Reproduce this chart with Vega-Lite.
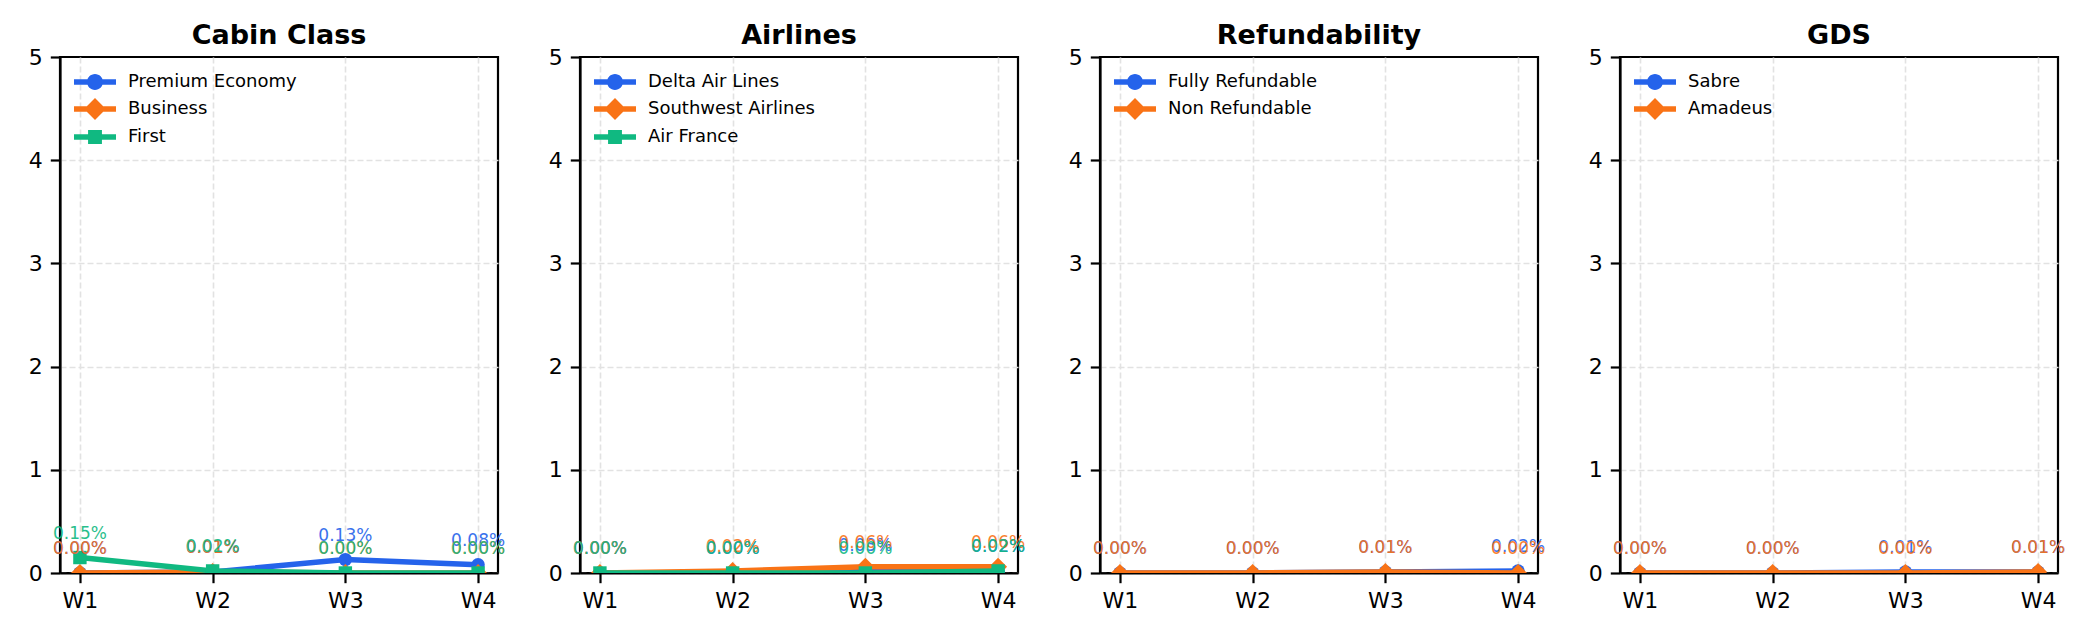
{
  "$schema": "https://vega.github.io/schema/vega-lite/v6.json",
  "background": "white",
  "padding": {"left": 27, "top": 20, "right": 5, "bottom": 5},
  "bounds": "flush",
  "spacing": 82,
  "resolve": {
    "scale": {"color": "independent", "shape": "independent"},
    "legend": {"color": "independent", "shape": "independent"}
  },
  "datasets": {
    "cabin": [
      {"series": "Premium Economy", "week": "W1", "value": 0.00},
      {"series": "Premium Economy", "week": "W2", "value": 0.01},
      {"series": "Premium Economy", "week": "W3", "value": 0.13},
      {"series": "Premium Economy", "week": "W4", "value": 0.08},
      {"series": "Business", "week": "W1", "value": 0.00},
      {"series": "Business", "week": "W2", "value": 0.01},
      {"series": "Business", "week": "W3", "value": 0.00},
      {"series": "Business", "week": "W4", "value": 0.00},
      {"series": "First", "week": "W1", "value": 0.15},
      {"series": "First", "week": "W2", "value": 0.02},
      {"series": "First", "week": "W3", "value": 0.00},
      {"series": "First", "week": "W4", "value": 0.00}
    ],
    "airlines": [
      {"series": "Delta Air Lines", "week": "W1", "value": 0.00},
      {"series": "Delta Air Lines", "week": "W2", "value": 0.00},
      {"series": "Delta Air Lines", "week": "W3", "value": 0.03},
      {"series": "Delta Air Lines", "week": "W4", "value": 0.02},
      {"series": "Southwest Airlines", "week": "W1", "value": 0.00},
      {"series": "Southwest Airlines", "week": "W2", "value": 0.02},
      {"series": "Southwest Airlines", "week": "W3", "value": 0.06},
      {"series": "Southwest Airlines", "week": "W4", "value": 0.06},
      {"series": "Air France", "week": "W1", "value": 0.00},
      {"series": "Air France", "week": "W2", "value": 0.00},
      {"series": "Air France", "week": "W3", "value": 0.00},
      {"series": "Air France", "week": "W4", "value": 0.02}
    ],
    "refund": [
      {"series": "Fully Refundable", "week": "W1", "value": 0.00},
      {"series": "Fully Refundable", "week": "W2", "value": 0.00},
      {"series": "Fully Refundable", "week": "W3", "value": 0.01},
      {"series": "Fully Refundable", "week": "W4", "value": 0.02},
      {"series": "Non Refundable", "week": "W1", "value": 0.00},
      {"series": "Non Refundable", "week": "W2", "value": 0.00},
      {"series": "Non Refundable", "week": "W3", "value": 0.01},
      {"series": "Non Refundable", "week": "W4", "value": 0.00}
    ],
    "gds": [
      {"series": "Sabre", "week": "W1", "value": 0.00},
      {"series": "Sabre", "week": "W2", "value": 0.00},
      {"series": "Sabre", "week": "W3", "value": 0.01},
      {"series": "Sabre", "week": "W4", "value": 0.01},
      {"series": "Amadeus", "week": "W1", "value": 0.00},
      {"series": "Amadeus", "week": "W2", "value": 0.00},
      {"series": "Amadeus", "week": "W3", "value": 0.00},
      {"series": "Amadeus", "week": "W4", "value": 0.01}
    ]
  },
  "hconcat": [
    {
      "title": "Cabin Class",
      "width": 438,
      "height": 516,
      "data": {"name": "cabin"},
      "encoding": {
        "x": {"field": "week", "type": "ordinal", "scale": {"type": "point", "padding": 0.15}, "axis": {"title": null, "grid": true}},
        "y": {"field": "value", "type": "quantitative", "scale": {"domain": [0, 5]}, "axis": {"title": null, "values": [0, 1, 2, 3, 4, 5], "format": "d", "gridOpacity": {"condition": {"test": "datum.value >= 5", "value": 0}, "value": 1}}}
      },
      "layer": [
        {"transform": [{"filter": "datum.series === 'Premium Economy'"}], "mark": {"type": "line", "color": "#2563eb", "strokeWidth": 5.5, "clip": true}},
        {"transform": [{"filter": "datum.series === 'Premium Economy'"}], "mark": {"type": "point", "shape": "circle", "size": 180, "filled": true, "opacity": 1, "color": "#2563eb", "clip": true}},
        {"transform": [{"filter": "datum.series === 'Business'"}], "mark": {"type": "line", "color": "#f97316", "strokeWidth": 5.5, "clip": true}},
        {"transform": [{"filter": "datum.series === 'Business'"}], "mark": {"type": "point", "shape": "diamond", "size": 324, "filled": true, "opacity": 1, "color": "#f97316", "clip": true}},
        {"transform": [{"filter": "datum.series === 'First'"}], "mark": {"type": "line", "color": "#10b981", "strokeWidth": 5.5, "clip": true}},
        {"transform": [{"filter": "datum.series === 'First'"}], "mark": {"type": "point", "shape": "square", "size": 180, "filled": true, "opacity": 1, "color": "#10b981", "clip": true}},
        {"transform": [{"filter": "datum.series === 'Premium Economy'"}], "mark": {"type": "text", "color": "#2563eb", "fontSize": 17, "dy": -19, "baseline": "alphabetic", "opacity": 0.9, "text": {"expr": "format(datum.value, '.2f') + '%'"}}},
        {"transform": [{"filter": "datum.series === 'Business'"}], "mark": {"type": "text", "color": "#f97316", "fontSize": 17, "dy": -19, "baseline": "alphabetic", "opacity": 0.9, "text": {"expr": "format(datum.value, '.2f') + '%'"}}},
        {"transform": [{"filter": "datum.series === 'First'"}], "mark": {"type": "text", "color": "#10b981", "fontSize": 17, "dy": -19, "baseline": "alphabetic", "opacity": 0.9, "text": {"expr": "format(datum.value, '.2f') + '%'"}}},
        {
          "transform": [{"filter": "false"}],
          "mark": {"type": "point", "filled": true, "opacity": 1},
          "encoding": {
            "color": {"field": "series", "type": "nominal", "scale": {"domain": ["Premium Economy", "Business", "First"], "range": ["#2563eb", "#f97316", "#10b981"]}, "legend": {"title": null}},
            "shape": {"field": "series", "type": "nominal", "scale": {"domain": ["Premium Economy", "Business", "First"], "range": [
              "M-2,-0.26L2,-0.26L2,0.26L-2,0.26Z M-0.76,0A0.76,0.76 0 1,1 0.76,0A0.76,0.76 0 1,1 -0.76,0Z",
              "M-2,-0.26L2,-0.26L2,0.26L-2,0.26Z M0,-1.04L1.04,0L0,1.04L-1.04,0Z",
              "M-2,-0.26L2,-0.26L2,0.26L-2,0.26Z M-0.66,-0.66L0.66,-0.66L0.66,0.66L-0.66,0.66Z"
            ]}, "legend": {"title": null}}
          }
        }
      ]
    },
    {
      "title": "Airlines",
      "width": 438,
      "height": 516,
      "data": {"name": "airlines"},
      "encoding": {
        "x": {"field": "week", "type": "ordinal", "scale": {"type": "point", "padding": 0.15}, "axis": {"title": null, "grid": true}},
        "y": {"field": "value", "type": "quantitative", "scale": {"domain": [0, 5]}, "axis": {"title": null, "values": [0, 1, 2, 3, 4, 5], "format": "d", "gridOpacity": {"condition": {"test": "datum.value >= 5", "value": 0}, "value": 1}}}
      },
      "layer": [
        {"transform": [{"filter": "datum.series === 'Delta Air Lines'"}], "mark": {"type": "line", "color": "#2563eb", "strokeWidth": 5.5, "clip": true}},
        {"transform": [{"filter": "datum.series === 'Delta Air Lines'"}], "mark": {"type": "point", "shape": "circle", "size": 180, "filled": true, "opacity": 1, "color": "#2563eb", "clip": true}},
        {"transform": [{"filter": "datum.series === 'Southwest Airlines'"}], "mark": {"type": "line", "color": "#f97316", "strokeWidth": 5.5, "clip": true}},
        {"transform": [{"filter": "datum.series === 'Southwest Airlines'"}], "mark": {"type": "point", "shape": "diamond", "size": 324, "filled": true, "opacity": 1, "color": "#f97316", "clip": true}},
        {"transform": [{"filter": "datum.series === 'Air France'"}], "mark": {"type": "line", "color": "#10b981", "strokeWidth": 5.5, "clip": true}},
        {"transform": [{"filter": "datum.series === 'Air France'"}], "mark": {"type": "point", "shape": "square", "size": 180, "filled": true, "opacity": 1, "color": "#10b981", "clip": true}},
        {"transform": [{"filter": "datum.series === 'Delta Air Lines'"}], "mark": {"type": "text", "color": "#2563eb", "fontSize": 17, "dy": -19, "baseline": "alphabetic", "opacity": 0.9, "text": {"expr": "format(datum.value, '.2f') + '%'"}}},
        {"transform": [{"filter": "datum.series === 'Southwest Airlines'"}], "mark": {"type": "text", "color": "#f97316", "fontSize": 17, "dy": -19, "baseline": "alphabetic", "opacity": 0.9, "text": {"expr": "format(datum.value, '.2f') + '%'"}}},
        {"transform": [{"filter": "datum.series === 'Air France'"}], "mark": {"type": "text", "color": "#10b981", "fontSize": 17, "dy": -19, "baseline": "alphabetic", "opacity": 0.9, "text": {"expr": "format(datum.value, '.2f') + '%'"}}},
        {
          "transform": [{"filter": "false"}],
          "mark": {"type": "point", "filled": true, "opacity": 1},
          "encoding": {
            "color": {"field": "series", "type": "nominal", "scale": {"domain": ["Delta Air Lines", "Southwest Airlines", "Air France"], "range": ["#2563eb", "#f97316", "#10b981"]}, "legend": {"title": null}},
            "shape": {"field": "series", "type": "nominal", "scale": {"domain": ["Delta Air Lines", "Southwest Airlines", "Air France"], "range": [
              "M-2,-0.26L2,-0.26L2,0.26L-2,0.26Z M-0.76,0A0.76,0.76 0 1,1 0.76,0A0.76,0.76 0 1,1 -0.76,0Z",
              "M-2,-0.26L2,-0.26L2,0.26L-2,0.26Z M0,-1.04L1.04,0L0,1.04L-1.04,0Z",
              "M-2,-0.26L2,-0.26L2,0.26L-2,0.26Z M-0.66,-0.66L0.66,-0.66L0.66,0.66L-0.66,0.66Z"
            ]}, "legend": {"title": null}}
          }
        }
      ]
    },
    {
      "title": "Refundability",
      "width": 438,
      "height": 516,
      "data": {"name": "refund"},
      "encoding": {
        "x": {"field": "week", "type": "ordinal", "scale": {"type": "point", "padding": 0.15}, "axis": {"title": null, "grid": true}},
        "y": {"field": "value", "type": "quantitative", "scale": {"domain": [0, 5]}, "axis": {"title": null, "values": [0, 1, 2, 3, 4, 5], "format": "d", "gridOpacity": {"condition": {"test": "datum.value >= 5", "value": 0}, "value": 1}}}
      },
      "layer": [
        {"transform": [{"filter": "datum.series === 'Fully Refundable'"}], "mark": {"type": "line", "color": "#2563eb", "strokeWidth": 5.5, "clip": true}},
        {"transform": [{"filter": "datum.series === 'Fully Refundable'"}], "mark": {"type": "point", "shape": "circle", "size": 180, "filled": true, "opacity": 1, "color": "#2563eb", "clip": true}},
        {"transform": [{"filter": "datum.series === 'Non Refundable'"}], "mark": {"type": "line", "color": "#f97316", "strokeWidth": 5.5, "clip": true}},
        {"transform": [{"filter": "datum.series === 'Non Refundable'"}], "mark": {"type": "point", "shape": "diamond", "size": 324, "filled": true, "opacity": 1, "color": "#f97316", "clip": true}},
        {"transform": [{"filter": "datum.series === 'Fully Refundable'"}], "mark": {"type": "text", "color": "#2563eb", "fontSize": 17, "dy": -19, "baseline": "alphabetic", "opacity": 0.9, "text": {"expr": "format(datum.value, '.2f') + '%'"}}},
        {"transform": [{"filter": "datum.series === 'Non Refundable'"}], "mark": {"type": "text", "color": "#f97316", "fontSize": 17, "dy": -19, "baseline": "alphabetic", "opacity": 0.9, "text": {"expr": "format(datum.value, '.2f') + '%'"}}},
        {
          "transform": [{"filter": "false"}],
          "mark": {"type": "point", "filled": true, "opacity": 1},
          "encoding": {
            "color": {"field": "series", "type": "nominal", "scale": {"domain": ["Fully Refundable", "Non Refundable"], "range": ["#2563eb", "#f97316"]}, "legend": {"title": null}},
            "shape": {"field": "series", "type": "nominal", "scale": {"domain": ["Fully Refundable", "Non Refundable"], "range": [
              "M-2,-0.26L2,-0.26L2,0.26L-2,0.26Z M-0.76,0A0.76,0.76 0 1,1 0.76,0A0.76,0.76 0 1,1 -0.76,0Z",
              "M-2,-0.26L2,-0.26L2,0.26L-2,0.26Z M0,-1.04L1.04,0L0,1.04L-1.04,0Z"
            ]}, "legend": {"title": null}}
          }
        }
      ]
    },
    {
      "title": "GDS",
      "width": 438,
      "height": 516,
      "data": {"name": "gds"},
      "encoding": {
        "x": {"field": "week", "type": "ordinal", "scale": {"type": "point", "padding": 0.15}, "axis": {"title": null, "grid": true}},
        "y": {"field": "value", "type": "quantitative", "scale": {"domain": [0, 5]}, "axis": {"title": null, "values": [0, 1, 2, 3, 4, 5], "format": "d", "gridOpacity": {"condition": {"test": "datum.value >= 5", "value": 0}, "value": 1}}}
      },
      "layer": [
        {"transform": [{"filter": "datum.series === 'Sabre'"}], "mark": {"type": "line", "color": "#2563eb", "strokeWidth": 5.5, "clip": true}},
        {"transform": [{"filter": "datum.series === 'Sabre'"}], "mark": {"type": "point", "shape": "circle", "size": 180, "filled": true, "opacity": 1, "color": "#2563eb", "clip": true}},
        {"transform": [{"filter": "datum.series === 'Amadeus'"}], "mark": {"type": "line", "color": "#f97316", "strokeWidth": 5.5, "clip": true}},
        {"transform": [{"filter": "datum.series === 'Amadeus'"}], "mark": {"type": "point", "shape": "diamond", "size": 324, "filled": true, "opacity": 1, "color": "#f97316", "clip": true}},
        {"transform": [{"filter": "datum.series === 'Sabre'"}], "mark": {"type": "text", "color": "#2563eb", "fontSize": 17, "dy": -19, "baseline": "alphabetic", "opacity": 0.9, "text": {"expr": "format(datum.value, '.2f') + '%'"}}},
        {"transform": [{"filter": "datum.series === 'Amadeus'"}], "mark": {"type": "text", "color": "#f97316", "fontSize": 17, "dy": -19, "baseline": "alphabetic", "opacity": 0.9, "text": {"expr": "format(datum.value, '.2f') + '%'"}}},
        {
          "transform": [{"filter": "false"}],
          "mark": {"type": "point", "filled": true, "opacity": 1},
          "encoding": {
            "color": {"field": "series", "type": "nominal", "scale": {"domain": ["Sabre", "Amadeus"], "range": ["#2563eb", "#f97316"]}, "legend": {"title": null}},
            "shape": {"field": "series", "type": "nominal", "scale": {"domain": ["Sabre", "Amadeus"], "range": [
              "M-2,-0.26L2,-0.26L2,0.26L-2,0.26Z M-0.76,0A0.76,0.76 0 1,1 0.76,0A0.76,0.76 0 1,1 -0.76,0Z",
              "M-2,-0.26L2,-0.26L2,0.26L-2,0.26Z M0,-1.04L1.04,0L0,1.04L-1.04,0Z"
            ]}, "legend": {"title": null}}
          }
        }
      ]
    }
  ],
  "config": {
    "font": "DejaVu Sans",
    "view": {"stroke": "black", "strokeWidth": 2.2},
    "axis": {
      "domainColor": "black",
      "domainWidth": 2.2,
      "tickColor": "black",
      "tickWidth": 2.2,
      "tickSize": 9.7,
      "labelFont": "DejaVu Sans",
      "labelFontSize": 22,
      "labelColor": "black",
      "labelPadding": 8,
      "gridColor": "#e2e2e2",
      "gridDash": [6, 3],
      "gridWidth": 1.6
    },
    "axisX": {"labelAngle": 0},
    "title": {"font": "DejaVu Sans", "fontSize": 27, "fontWeight": "bold", "color": "black", "offset": -4},
    "legend": {
      "orient": "none",
      "legendX": 24.5,
      "legendY": 14.5,
      "padding": 0,
      "labelFont": "DejaVu Sans",
      "labelFontSize": 18,
      "labelColor": "black",
      "labelOffset": 22.5,
      "labelLimit": 400,
      "symbolSize": 441,
      "symbolStrokeWidth": 0,
      "symbolOpacity": 1,
      "rowPadding": 6
    }
  }
}
